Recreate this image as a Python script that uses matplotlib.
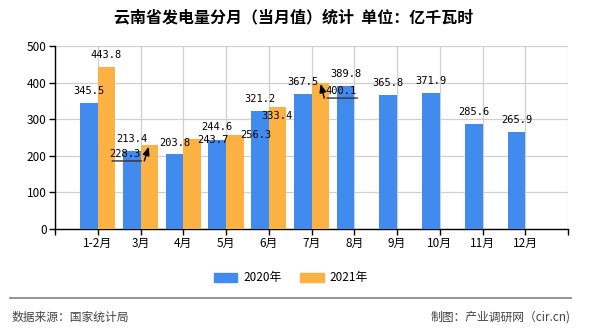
import matplotlib
matplotlib.use("Agg")
import matplotlib.pyplot as plt
from matplotlib.transforms import offset_copy
from matplotlib.patches import Patch

plt.rcParams['font.family'] = ['Noto Sans CJK SC', 'DejaVu Sans']

categories = ["1-2月", "3月", "4月", "5月", "6月", "7月", "8月", "9月", "10月", "11月", "12月"]
values_2020 = [345.5, 213.4, 203.8, 243.7, 321.2, 367.5, 389.8, 365.8, 371.9, 285.6, 265.9]
values_2021 = [443.8, 228.3, 244.6, 256.3, 333.4, 400.1]
series_names = ["2020年", "2021年"]
title = "云南省发电量分月（当月值）统计  单位：亿千瓦时"
source_left = "数据来源：国家统计局"
source_right = "制图：产业调研网（cir.cn)"

blue = "#428BEE"
orange = "#FCB242"

W, H, DPI = 590, 330, 100
fig = plt.figure(figsize=(W / DPI, H / DPI), dpi=DPI)
ax = fig.add_axes([55 / W, (H - 229) / H, (568 - 55) / W, (229 - 46) / H])

bw = 0.41
x = list(range(len(categories)))
ax.bar([i - bw / 2 for i in x], values_2020, width=bw, color=blue, zorder=3)
ax.bar([i + bw / 2 for i in range(len(values_2021))], values_2021, width=bw, color=orange, zorder=3)

ax.set_xlim(-1, len(categories))
ax.set_ylim(0, 500)
ax.set_xticks(range(-1, len(categories) + 1))
ax.set_xticklabels([""] + categories + [""], fontsize=8.5)
ax.set_yticks(range(0, 501, 100))
ax.set_yticklabels([str(v) for v in range(0, 501, 100)], fontsize=8.5)
ax.grid(True, color="#d0d0d0", linewidth=0.9, zorder=0)
ax.set_axisbelow(True)
for s in ["top", "right"]:
    ax.spines[s].set_visible(False)
for s in ["left", "bottom"]:
    ax.spines[s].set_color("black")
    ax.spines[s].set_linewidth(1.0)
ax.tick_params(axis="both", length=4, width=1, color="black", pad=2)

lab_font = dict(family="DejaVu Sans Mono", fontsize=7.5, color="black", ha="center", va="center")

# label offsets in pixels (dx, dy) relative to bar top centre
off_2020 = [(0, 12), (0, 12), (0, 11), (-4, 0), (0, 12), (0, 12), (0, 12), (0, 12), (0, 12), (0, 12), (0, 12)]
off_2021 = [(0, 12), (-24, -9), (25, 12), (21, 0), (-1, -9), (21, -8)]
arrow_2021 = [None, (-40, -5, -15.5, -5), None, None, None, (4, 40, -15.5, 4)]

def label(xc, v, dx, dy):
    ax.annotate(f"{v:.1f}", xy=(xc, v), xycoords="data", xytext=(dx, dy),
                textcoords="offset pixels", zorder=5, **lab_font)

for i, v in enumerate(values_2020):
    label(i - bw / 2, v, *off_2020[i])
for i, v in enumerate(values_2021):
    xc = i + bw / 2
    label(xc, v, *off_2021[i])
    a = arrow_2021[i]
    if a is not None:
        x1, x2, yy, xs = a
        tr = offset_copy(ax.transData, fig=fig, x=x1, y=yy, units="dots")
        ax.annotate("", xy=(xc, v), xycoords=tr, xytext=(x2 - x1, 0),
                    textcoords="offset pixels",
                    arrowprops=dict(arrowstyle="-", color="#333333", lw=1.0))
        ax.annotate("", xy=(xc, v), xycoords="data", xytext=(xs, yy),
                    textcoords="offset pixels",
                    arrowprops=dict(arrowstyle="-|>,head_length=0.5,head_width=0.2",
                                    color="black", lw=1.0, shrinkA=0, shrinkB=1))

fig.text(294 / W, 1 - 17 / H, title, ha="center", va="center", fontsize=11.5, fontweight="bold")

handles = [Patch(color=blue), Patch(color=orange)]
fig.legend(handles, series_names, loc="center", bbox_to_anchor=(291 / W, 1 - 278 / H),
           ncol=2, frameon=False, fontsize=8.5, handlelength=2.0, handleheight=0.75,
           handletextpad=0.5, columnspacing=1.6)

fig.add_artist(plt.Line2D([10 / W, 571 / W], [1 - 298 / H, 1 - 298 / H], color="#808080", lw=1.2))
fig.text(12 / W, 1 - 317 / H, source_left, ha="left", va="center", fontsize=8.5, color="#444444")
fig.text(571 / W, 1 - 317 / H, source_right, ha="right", va="center", fontsize=8.5, color="#444444")

fig.savefig("out.png", dpi=DPI)
